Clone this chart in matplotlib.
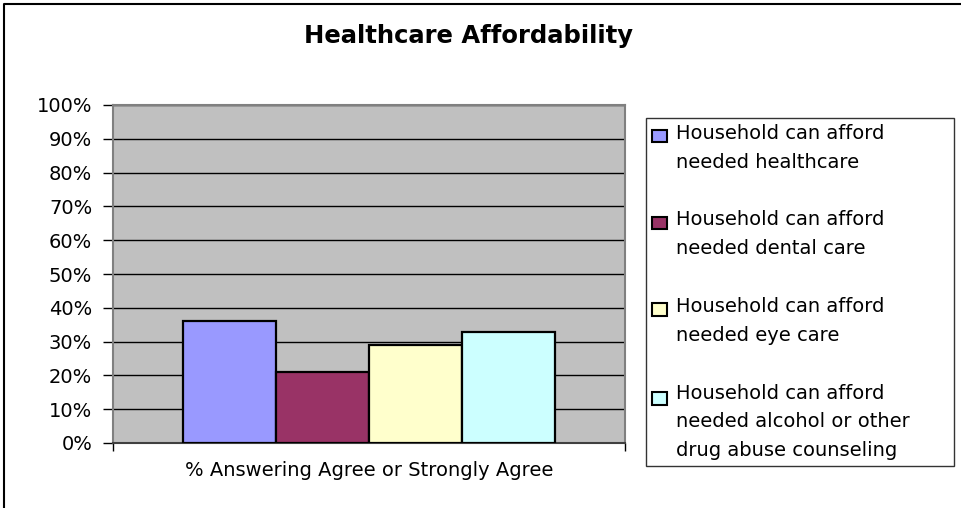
import matplotlib
matplotlib.use("Agg")
import matplotlib.pyplot as plt
import matplotlib.patches as mpatches
from matplotlib.legend_handler import HandlerPatch
from matplotlib.lines import Line2D
from matplotlib.ticker import PercentFormatter, FixedLocator

# ---- data ----
title = "Healthcare Affordability"
category = "% Answering Agree or Strongly Agree"
series_labels = [
    "Household can afford\nneeded healthcare",
    "Household can afford\nneeded dental care",
    "Household can afford\nneeded eye care",
    "Household can afford\nneeded alcohol or other\ndrug abuse counseling",
]
values = [36.0, 20.9, 28.9, 32.7]
colors = ["#9999FF", "#993366", "#FFFFCC", "#CCFFFF"]
yticks = [0, 10, 20, 30, 40, 50, 60, 70, 80, 90, 100]

plt.rcParams["font.family"] = ["DejaVu Sans"]
FS = 14
LSP = 1.65

W, H = 961, 508
fig = plt.figure(figsize=(W / 100, H / 100), dpi=100)
fig.patch.set_facecolor("white")

ax = fig.add_axes([113 / W, 1 - 443 / H, 512 / W, 338 / H])
ax.set_facecolor("#C0C0C0")

bw = 0.1816
n = len(values)
for i, (v, c, lab) in enumerate(zip(values, colors, series_labels)):
    ax.bar((i - (n - 1) / 2) * bw, v, width=bw, color=c, edgecolor="black",
           linewidth=1.6, zorder=3, label=lab)

ax.set_xlim(-0.5, 0.5)
ax.set_ylim(0, 100)
ax.yaxis.set_major_locator(FixedLocator(yticks))
ax.yaxis.set_major_formatter(PercentFormatter(decimals=0))
ax.grid(axis="y", color="black", linewidth=1.0, zorder=1)
ax.set_axisbelow(True)

ax.set_xticks([0])
ax.set_xticklabels([category], fontsize=FS)
ax.tick_params(axis="x", which="major", length=0, pad=13)
ax.set_xticks([-0.5, 0.5], minor=True)
ax.tick_params(axis="x", which="minor", length=6, width=1, color="black", direction="out")
ax.tick_params(axis="y", length=7, width=1, color="black", direction="out", pad=8, labelsize=FS)

for s in ["top", "right", "left"]:
    ax.spines[s].set_color("#808080")
    ax.spines[s].set_linewidth(1.5)
ax.spines["bottom"].set_color("#404040")
ax.spines["bottom"].set_linewidth(1.5)

# legend with handles aligned to first line of each label
handles = [mpatches.Patch(facecolor=c, edgecolor="black", linewidth=1.5) for c in colors]


def make_func(nlines):
    def f(legend, orig_handle, xdescent, ydescent, width, height, fontsize):
        shift = (nlines - 1) * 0.5 * fontsize * LSP * 0.76
        return mpatches.Rectangle((-xdescent, -ydescent + shift), width, height)
    return f


hmap = {h: HandlerPatch(patch_func=make_func(lab.count("\n") + 1))
        for h, lab in zip(handles, series_labels)}

leg = fig.legend(handles, series_labels, handler_map=hmap,
                 loc="upper left",
                 bbox_to_anchor=(646 / W, 1 - 459 / H, 308 / W, 341 / H),
                 mode="expand", borderaxespad=0, fontsize=FS,
                 frameon=True, fancybox=False, edgecolor="black",
                 borderpad=0.3, handlelength=0.77, handleheight=0.62,
                 handletextpad=0.45, labelspacing=2.0)
leg.get_frame().set_linewidth(1.0)
for t in leg.get_texts():
    t.set_linespacing(LSP)

fig.text(468 / W, 1 - 36 / H, title, ha="center", va="center",
         fontsize=17.5, fontweight="bold")

# outer chart border (top and left visible)
fig.add_artist(Line2D([3.5 / W, 3.5 / W, 1.0], [0.0, 1 - 4 / H, 1 - 4 / H],
                      transform=fig.transFigure, color="black", linewidth=1.5))

fig.savefig("out.png", dpi=100)
